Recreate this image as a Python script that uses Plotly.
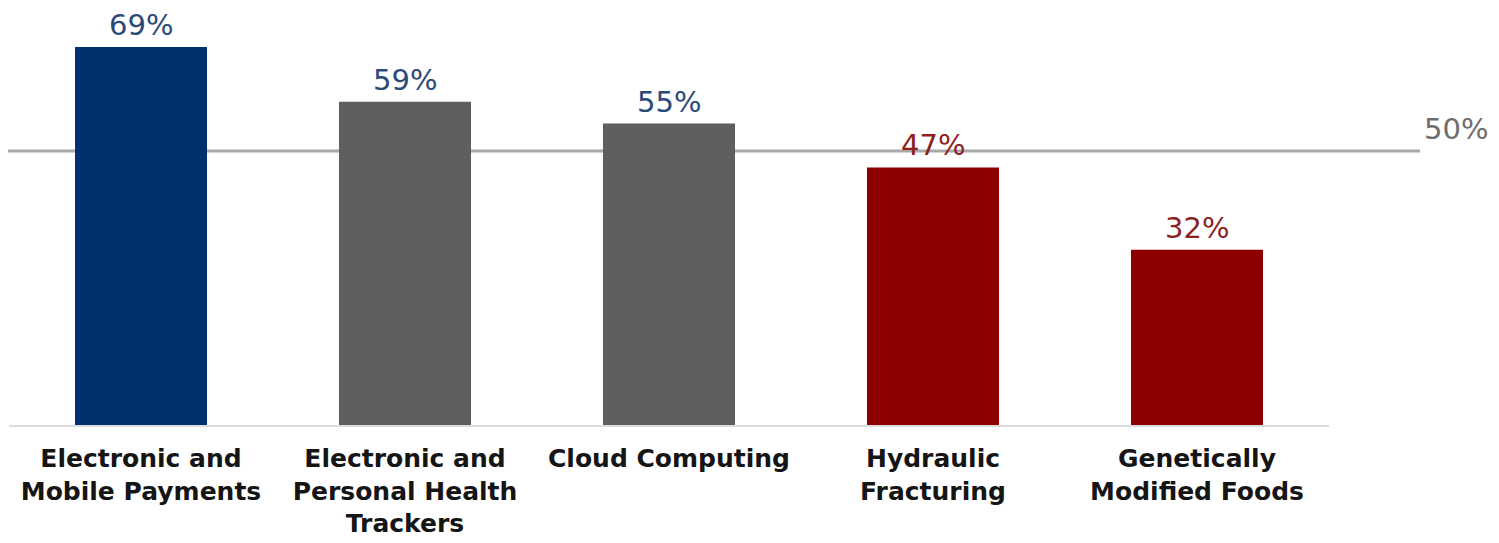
import plotly.graph_objects as go

categories = ["Electronic and<br>Mobile Payments",
              "Electronic and<br>Personal Health<br>Trackers",
              "Cloud Computing",
              "Hydraulic<br>Fracturing",
              "Genetically<br>Modified Foods"]
values = [69, 59, 55, 47, 32]
value_labels = ["69%", "59%", "55%", "47%", "32%"]
bar_colors = ["#00306e", "#5f5f5f", "#5f5f5f", "#8e0000", "#8e0000"]
label_colors = ["#2b4a78", "#2b4a78", "#2b4a78", "#8e1f1f", "#8e1f1f"]
reference_value = 50
reference_label = "50%"

# page offset of the figure (default body margin of 8px)
PX0 = 9      # page x of plot left edge
PW = 1320    # plot width in px

fig = go.Figure()
fig.add_trace(go.Bar(x=categories, y=values, marker_color=bar_colors,
                     marker_line_width=0, width=0.5, hoverinfo="skip"))

for c, v, t, col in zip(categories, values, value_labels, label_colors):
    fig.add_annotation(x=c, y=v, text=t, showarrow=False, yanchor="bottom",
                       yshift=4, borderpad=0,
                       font=dict(family="DejaVu Sans", size=29, color=col))

# 50% reference line
fig.add_shape(type="line", xref="paper", yref="y", x0=(0 - PX0) / PW, x1=(1420 - PX0) / PW,
              y0=reference_value, y1=reference_value,
              line=dict(color="#a8a8a8", width=3), layer="below")
fig.add_annotation(xref="paper", yref="y", x=(1490 - PX0) / PW, y=reference_value,
                   xanchor="right", yanchor="bottom", yshift=3, text=reference_label,
                   showarrow=False, font=dict(family="DejaVu Sans", size=29, color="#6e6e6e"))

fig.update_layout(
    width=1491, height=535,
    margin=dict(l=1, r=170, t=6, b=118, autoexpand=False),
    plot_bgcolor="white", paper_bgcolor="white",
    showlegend=False,
    xaxis=dict(showline=True, linecolor="#dcdcdc", linewidth=2, ticks="",
               tickfont=dict(family="DejaVu Sans", size=25, color="#151515"),
               ticklabelstandoff=10, showgrid=False, automargin=False),
    yaxis=dict(range=[0, 75], visible=False, showgrid=False, automargin=False),
)
fig.update_xaxes(tickfont_weight="bold")

fig.write_html("out.html")
